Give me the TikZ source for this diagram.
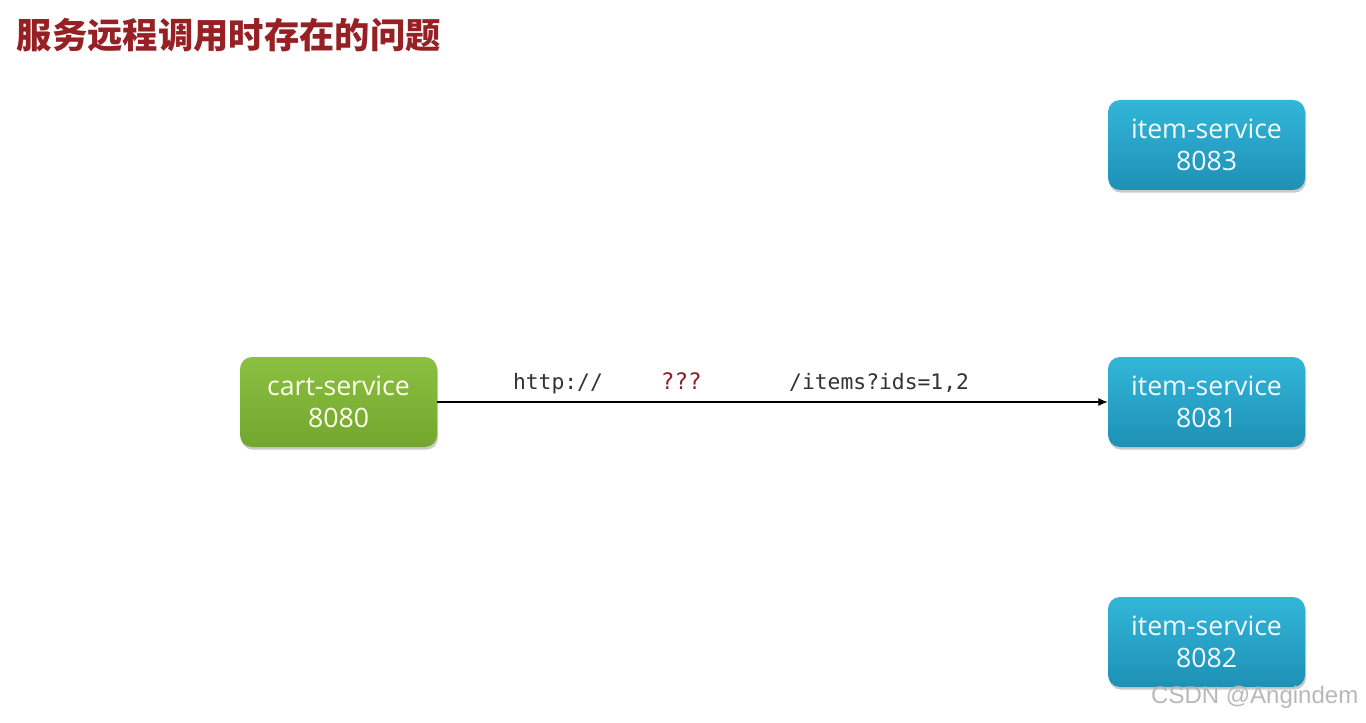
\documentclass[tikz,border=0pt]{standalone}
\usepackage{fontspec}
\setmainfont{Open Sans}
\setmonofont{DejaVu Sans Mono}
\newfontfamily\cjk{Noto Sans CJK SC}
\newfontfamily\markfont{Liberation Sans}
\usetikzlibrary{arrows.meta,shadows}
\definecolor{titlered}{RGB}{150,32,36}
\definecolor{cartlight}{RGB}{140,192,66}
\definecolor{cartdark}{RGB}{114,166,46}
\definecolor{itemlight}{RGB}{50,182,216}
\definecolor{itemdark}{RGB}{30,144,182}
\definecolor{qred}{RGB}{140,36,40}

\begin{document}
\begin{tikzpicture}[x=0.75pt, y=-0.75pt,
  font=\fontsize{20}{24}\selectfont,
  svc/.style={rounded corners=9pt, minimum width=147.75pt, minimum height=67.5pt, align=center, inner sep=2pt,
    drop shadow={shadow xshift=0.8pt, shadow yshift=-2pt, opacity=0.35, fill=black!60}},
  cart/.style={svc, top color=cartlight, bottom color=cartdark, text=white!92!yellow},
  item/.style={svc, top color=itemlight, bottom color=itemdark, text=white!95!cyan},
  url/.style={font=\ttfamily\fontsize{16}{18}\selectfont, text=black!80, inner sep=6pt, text height=12pt, text depth=3pt},
  arr/.style={-{Latex[length=7pt,width=6pt]}, line width=0.8pt, black}]

% frame
\useasboundingbox (0,0) rectangle (1366,723);

% title
\node[anchor=west, font=\cjk\bfseries\fontsize{26.5}{30}\selectfont, text=titlered] (title) at (12,35) {服务远程调用时存在的问题};

% services
\node[cart] (cart) at (338.5,402) {cart-service\\8080};
\node[item] (item3) at (1206.5,145) {item-service\\8083};
\node[item] (item1) at (1206.5,402) {item-service\\8081};
\node[item] (item2) at (1206.5,642) {item-service\\8082};

% the call
\draw[arr] (cart) -- node[url, pos=0.18, above] (proto) {http://}
  node[url, pos=0.364, above, text=qred, font=\ttfamily\fontsize{17}{18}\selectfont] (host) {???}
  node[url, pos=0.659, above] (path) {/items?ids=1,2} (item1);

% watermark
\node[anchor=east, font=\markfont\fontsize{18}{20}\selectfont, text=black!28] (mark) at (1363,697) {CSDN @Angindem};
\end{tikzpicture}
\end{document}
